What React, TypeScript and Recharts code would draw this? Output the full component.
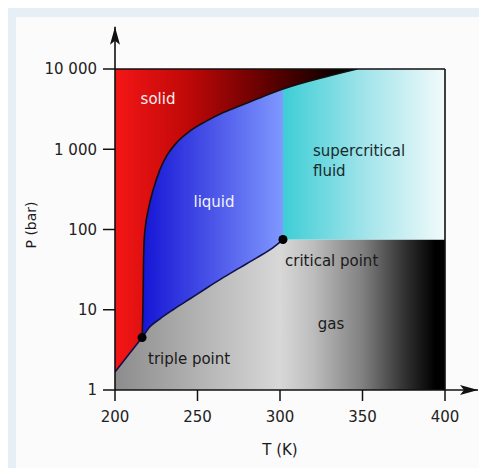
import {
  ComposedChart, Area, Line, Scatter, XAxis, YAxis, ReferenceLine,
} from "recharts";

// phase boundaries (T in K, P in bar)
const subT = [200, 208.2, 216.4];
const subP = [1.68, 2.75, 4.5];

const meltT = [216.4, 217.0, 217.3, 217.7, 218.2, 220.2, 223.2, 227.3, 231.3, 237.4, 245.5, 255.6, 265.6, 275.8, 285.9, 301.8, 328.5, 346.7];
const meltP = [4.5, 13.3, 42, 75, 100, 178, 316, 562, 825, 1213, 1693, 2259, 2876, 3477, 4217, 5620, 8060, 10000];

const vapT = [216.4, 221.2, 227.3, 235.2, 245.5, 255.8, 265.5, 275.8, 286.1, 295.8, 301.8];
const vapP = [4.5, 6.13, 7.72, 10, 13.7, 18.8, 25.1, 33.5, 44.7, 59.6, 75];

const triple = { T: 216.4, P: 4.5 };
const critical = { T: 301.8, P: 75 };

const P_MAX = 10000;
const P_MIN = 1;
const T_MIN = 200;
const T_MAX = 400;

const xTicks = [200, 250, 300, 350, 400];
const yTicks = [1, 10, 100, 1000, 10000];

const FONT = "'DejaVu Sans', sans-serif";

// regions built from the boundaries above, painted back to front
const gasBase = [
  { T: T_MIN, P: [P_MIN, critical.P] },
  { T: T_MAX, P: [P_MIN, critical.P] },
];

const liquidData = meltT
  .map((t, i) => ({ T: t, P: [P_MIN, meltP[i]] }))
  .filter(d => d.T <= critical.T);

const superData = [
  { T: critical.T, P: [critical.P, P_MAX] },
  { T: T_MAX, P: [critical.P, P_MAX] },
];

const solidData = [
  ...subT.map((t, i) => ({ T: t, P: [subP[i], P_MAX] })),
  ...meltT.slice(1).map((t, i) => ({ T: t, P: [meltP[i + 1], P_MAX] })),
];

const gasData = [
  ...subT.map((t, i) => ({ T: t, P: [P_MIN, subP[i]] })),
  ...vapT.slice(1).map((t, i) => ({ T: t, P: [P_MIN, vapP[i + 1]] })),
];

const meltLine = meltT.map((t, i) => ({ T: t, P: meltP[i] }));
const lowLine = [
  ...subT.map((t, i) => ({ T: t, P: subP[i] })),
  ...vapT.slice(1).map((t, i) => ({ T: t, P: vapP[i + 1] })),
];

const fmtP = (v: number) => v >= 1000 ? `${Math.round(v / 1000)} 000` : String(v);

const App = () => {
  return (
    <div style={{ position: "absolute", left: 0, top: 0, width: 487, height: 468, background: "#ffffff", fontFamily: FONT }}>
      <div style={{ position: "absolute", left: 8, top: 8, width: 471, height: 460, background: "#e6eef6" }} />
      <div style={{ position: "absolute", left: 16, top: 17, width: 463, height: 451, background: "#fcfbfc" }} />

      <div style={{ position: "absolute", left: 0, top: 0 }}>
        <ComposedChart width={487} height={468} margin={{ top: 69, right: 42, bottom: 38, left: 45 }}>
          <defs>
            <linearGradient id="gSolid" x1="0" y1="0" x2="1" y2="0">
              <stop offset="0" stopColor="#f41616" />
              <stop offset="0.3" stopColor="#c00808" />
              <stop offset="0.65" stopColor="#5a0000" />
              <stop offset="0.9" stopColor="#120000" />
              <stop offset="1" stopColor="#000000" />
            </linearGradient>
            <linearGradient id="gLiquid" x1="0" y1="0" x2="1" y2="0">
              <stop offset="0" stopColor="#1515d5" />
              <stop offset="0.5" stopColor="#4a55e8" />
              <stop offset="1" stopColor="#7f98ff" />
            </linearGradient>
            <linearGradient id="gSuper" x1="0" y1="0" x2="1" y2="0">
              <stop offset="0" stopColor="#3ecdd6" />
              <stop offset="0.5" stopColor="#a0e4ea" />
              <stop offset="1" stopColor="#f2fafb" />
            </linearGradient>
            <linearGradient id="gGas" gradientUnits="userSpaceOnUse" x1="115" y1="0" x2="445" y2="0">
              <stop offset="0" stopColor="#8c8c8c" />
              <stop offset="0.5" stopColor="#d8d8d8" />
              <stop offset="0.6" stopColor="#bdbdbd" />
              <stop offset="0.75" stopColor="#808080" />
              <stop offset="0.88" stopColor="#303030" />
              <stop offset="0.97" stopColor="#000000" />
            </linearGradient>
            <marker id="arrow" viewBox="0 0 18 10" markerWidth="18" markerHeight="10" refX="18" refY="5" orient="auto" markerUnits="userSpaceOnUse">
              <path d="M0,0 L18,5 L0,10 L4,5 z" fill="#111" />
            </marker>
          </defs>

          <XAxis
            type="number" dataKey="T" domain={[T_MIN, T_MAX]} ticks={xTicks} allowDataOverflow
            axisLine={false} tickSize={11} tickMargin={10} height={40}
            tickLine={{ stroke: "#111", strokeWidth: 1.5 }}
            tick={{ fill: "#222", fontSize: 15, fontFamily: FONT }}
          />
          <YAxis
            type="number" dataKey="P" scale="log" domain={[P_MIN, P_MAX]} ticks={yTicks} allowDataOverflow
            axisLine={false} tickSize={12} tickMargin={6} width={70}
            tickFormatter={fmtP}
            tickLine={{ stroke: "#111", strokeWidth: 1.5 }}
            tick={{ fill: "#222", fontSize: 15, fontFamily: FONT }}
          />

          <Area data={gasBase} dataKey="P" type="linear" fill="url(#gGas)" fillOpacity={1} stroke="none" isAnimationActive={false} />
          <Area data={liquidData} dataKey="P" type="monotoneX" fill="url(#gLiquid)" fillOpacity={1} stroke="none" isAnimationActive={false} />
          <Area data={superData} dataKey="P" type="linear" fill="url(#gSuper)" fillOpacity={1} stroke="none" isAnimationActive={false} />
          <Area data={solidData} dataKey="P" type="monotoneX" fill="url(#gSolid)" fillOpacity={1} stroke="none" isAnimationActive={false} />
          <Area data={gasData} dataKey="P" type="monotoneX" fill="url(#gGas)" fillOpacity={1} stroke="none" isAnimationActive={false} />

          <Line data={meltLine} dataKey="P" type="monotoneX" stroke="#111" strokeWidth={1.6} dot={false} isAnimationActive={false} />
          <Line data={lowLine} dataKey="P" type="monotoneX" stroke="#10104a" strokeWidth={1.6} dot={false} isAnimationActive={false} />

          <ReferenceLine y={P_MAX} stroke="#111" strokeWidth={1.6} />
          <ReferenceLine x={T_MAX} stroke="#111" strokeWidth={1.6} />
          <ReferenceLine segment={[{ x: T_MIN, y: P_MIN }, { x: T_MIN, y: 33500 }]} ifOverflow="visible" stroke="#111" strokeWidth={1.6} markerEnd="url(#arrow)" />
          <ReferenceLine segment={[{ x: T_MIN, y: P_MIN }, { x: 420, y: P_MIN }]} ifOverflow="visible" stroke="#111" strokeWidth={1.6} markerEnd="url(#arrow)" />

          <Scatter data={[triple, critical]} dataKey="P" fill="#000" isAnimationActive={false} />
        </ComposedChart>
      </div>

      <svg width={487} height={468} style={{ position: "absolute", left: 0, top: 0, pointerEvents: "none" }} fontFamily={FONT} fontSize={15}>
        <text x={158} y={104} textAnchor="middle" fill="#f6eef2">solid</text>
        <text x={214} y={207} textAnchor="middle" fill="#f2f2fa">liquid</text>
        <text x={313} y={156} fill="#1a2a2c">supercritical</text>
        <text x={313} y={176} fill="#1a2a2c">fluid</text>
        <text x={285} y={266} fill="#1a1a1a">critical point</text>
        <text x={331} y={329} textAnchor="middle" fill="#1a1a1a">gas</text>
        <text x={148} y={364} fill="#1a1a1a">triple point</text>
        <text x={280} y={455} textAnchor="middle" fill="#1a1a1a">T (K)</text>
        <text x={0} y={0} transform="translate(36 225) rotate(-90)" textAnchor="middle" fill="#1a1a1a" fontSize={14}>P (bar)</text>
      </svg>
    </div>
  );
};

export default App;
